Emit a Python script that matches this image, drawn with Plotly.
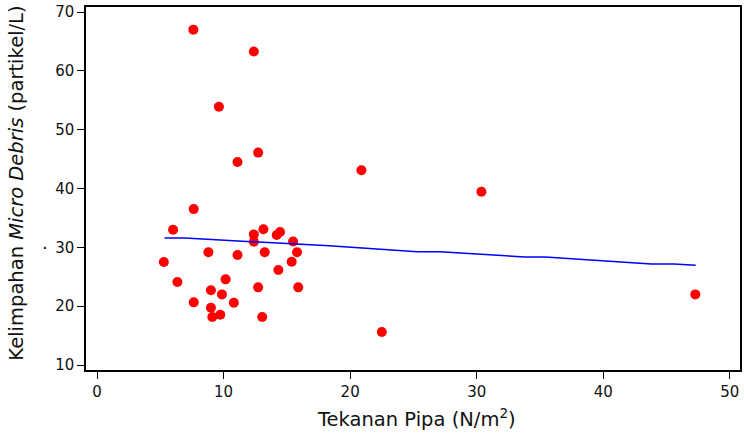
import plotly.graph_objects as go

# Observations: pipe pressure vs. micro debris abundance
tekanan = [5.28, 6.01, 6.35, 7.64, 7.61, 7.64, 8.80, 9.00, 9.00, 9.11,
           9.74, 9.87, 10.16, 10.81, 11.10, 9.63, 11.10, 12.39, 12.73, 12.39,
           12.39, 13.15, 13.25, 12.73, 13.05, 14.20, 14.46, 14.33, 15.49, 15.38,
           15.80, 15.90, 20.89, 30.37, 47.27, 22.50]
kelimpahan = [27.5, 33.0, 24.1, 36.5, 67.0, 20.65, 29.15, 22.7, 19.74, 18.16,
              18.55, 22.0, 24.56, 20.59, 28.7, 53.9, 44.5, 63.3, 46.1, 32.2,
              30.96, 33.06, 29.15, 23.2, 18.16, 32.1, 32.6, 26.15, 31.0, 27.56,
              29.15, 23.2, 43.1, 39.45, 22.0, 15.6]

# Fitted trend
fit_x = [5.33, 6.93, 18.35, 25.3, 27.1, 33.8, 35.4, 43.8, 45.6, 47.3]
fit_y = [31.58, 31.58, 30.25, 29.26, 29.26, 28.36, 28.36, 27.17, 27.17, 26.94]

x_ticks = [0, 10, 20, 30, 40, 50]
y_ticks = [10, 20, 30, 40, 50, 60, 70]

x_title = "Tekanan Pipa (N/m<sup>2</sup>)"
y_title = "Kelimpahan <i>Micro Debris</i> (partikel/L)"

FONT = "DejaVu Sans"
TEXT = "#111111"

fig = go.Figure()
fig.add_trace(go.Scatter(
    x=tekanan, y=kelimpahan, mode="markers",
    marker=dict(color="#ff0000", size=10, line=dict(width=0)),
    showlegend=False,
))
fig.add_trace(go.Scatter(
    x=fit_x, y=fit_y, mode="lines",
    line=dict(color="#0000ff", width=1.5),
    showlegend=False,
))

axis_common = dict(
    showgrid=False, zeroline=False,
    showline=True, linecolor="black", linewidth=1.5, mirror=True,
    ticks="outside", ticklen=7, tickwidth=1, tickcolor="black",
    tickfont=dict(family=FONT, size=15, color=TEXT),
)

fig.update_xaxes(range=[-0.87, 50.8], tickvals=x_ticks, **axis_common)
fig.update_yaxes(range=[9.15, 70.85], tickvals=y_ticks, **axis_common)

# Axis titles
fig.add_annotation(
    text=x_title, xref="paper", yref="paper", x=0.506, y=-0.132,
    xanchor="center", yanchor="middle", showarrow=False,
    font=dict(family=FONT, size=19.5, color=TEXT),
)
fig.add_annotation(
    text=y_title, xref="paper", yref="paper", x=-0.1067, y=0.514,
    xanchor="center", yanchor="middle", textangle=-90, showarrow=False,
    font=dict(family=FONT, size=19.5, color=TEXT),
)
fig.add_annotation(
    text="·", xref="paper", yref="y", x=-0.07, y=30, showarrow=False,
    font=dict(family=FONT, size=18, color=TEXT),
)

fig.update_layout(
    width=744, height=433,
    margin=dict(l=86, r=2, t=7, b=63),
    paper_bgcolor="white", plot_bgcolor="white",
)

fig.write_html("out.html")
